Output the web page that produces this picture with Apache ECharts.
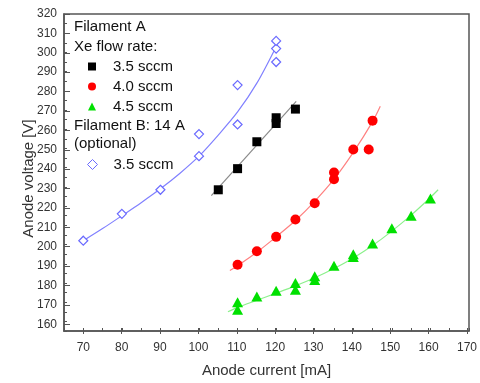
<!DOCTYPE html>
<html>
<head>
<meta charset="utf-8">
<script src="https://cdn.jsdelivr.net/npm/echarts@6/dist/echarts.min.js"></script>
<style>
html,body{margin:0;padding:0;background:#fff;}
#chart{width:480px;height:383px;}
</style>
</head>
<body>
<div id="chart"></div>
<script>
// Filament A, Xe flow rate 3.5 sccm  [anode current mA, anode voltage V]
const filamentA35 = [[105,228.5],[110,239.5],[115,253.5],[120,263],[120,266],[125,270.5]];
// Filament A, 4.0 sccm
const filamentA40 = [[110,189.5],[115,196.5],[120,204],[125,213],[130,221.5],[135,234],[135,237.5],[140,249.5],[144,249.5],[145,264.5]];
// Filament A, 4.5 sccm
const filamentA45 = [[110,170],[110,166],[115,173],[120,176],[125,180],[125,176.5],[130,183.5],[130,181.5],[135,189],[140,195],[140,193.5],[145,200.5],[150,208.5],[155,215],[160,224]];
// Filament B 14 A (optional), 3.5 sccm
const filamentB35 = [[70,202],[80,216],[90,228.5],[100,246],[100,257.5],[110,262.5],[110,283],[120,295],[120,302],[120,306]];

// fit curves
const fitA35 = [[103.2,225.5],[125.2,274.5]];
const fitA40 = [[108,186.5],[110,189],[115,196],[120,204],[125,212.5],[130,222.5],[135,234],[140,248],[145,264],[147,272]];
const fitA45 = [[107.5,165],[110,167.3],[115,171],[120,174.7],[125,178.5],[130,182.7],[135,187.5],[140,193],[145,199.5],[150,207],[155,215.3],[160,224.5],[162,228.5]];
const fitB35 = [[70,202],[75,208.3],[80,215],[85,221.8],[90,229],[95,237],[100,246],[105,257],[110,269],[115,284],[120,303]];

const legendA = ['3.5 sccm','4.0 sccm','4.5 sccm'];
const legendB = ['3.5 sccm (B)'];
const legendBLabel = '3.5 sccm';
const headers = ['Filament A','Xe flow rate:','Filament B: 14 A','(optional)'];

const xTitle = 'Anode current [mA]';
const yTitle = 'Anode voltage [V]';

const FONT = '"Liberation Sans", Arial, sans-serif';
const AX = '#555';
const BLUE = '#6a6aff';

const chart = echarts.init(document.getElementById('chart'), null, {renderer:'canvas'});

function fitLine(data, color){
  return {type:'line', data:data, xAxisIndex:0, yAxisIndex:0, showSymbol:false, symbol:'none',
    smooth:0.3, lineStyle:{color:color, width:1.2}, z:1, silent:true, animation:false};
}

chart.setOption({
  animation:false,
  backgroundColor:'#fff',
  textStyle:{fontFamily:FONT},
  grid:[
    {left:64, right:11, top:14, bottom:49, show:true, borderColor:AX, borderWidth:1.5, backgroundColor:'transparent'},
    {left:64, right:11, top:14, bottom:58.7},
    {left:83.3, right:11, top:14, bottom:49}
  ],
  xAxis:[
    {gridIndex:0, type:'value', min:65, max:170, interval:5,
      axisLine:{show:true, onZero:false, lineStyle:{color:AX, width:1.5}},
      axisTick:{show:true, inside:true, length:3, lineStyle:{color:AX, width:1}},
      axisLabel:{show:false}, splitLine:{show:false},
      name:xTitle, nameLocation:'middle', nameGap:32,
      nameTextStyle:{fontSize:15, color:'#333', fontFamily:FONT}},
    {gridIndex:1, type:'value', min:65, max:170, show:false},
    {gridIndex:2, type:'value', min:70, max:170, interval:10,
      axisLine:{show:false, onZero:false},
      axisTick:{show:true, inside:true, length:6, lineStyle:{color:AX, width:1}},
      axisLabel:{fontSize:12, color:'#333', margin:8, fontFamily:FONT},
      splitLine:{show:false}}
  ],
  yAxis:[
    {gridIndex:0, type:'value', min:155, max:320, interval:5,
      axisLine:{show:true, onZero:false, lineStyle:{color:AX, width:1.5}},
      axisTick:{show:true, inside:true, length:3, lineStyle:{color:AX, width:1}},
      axisLabel:{show:false}, splitLine:{show:false},
      name:yTitle, nameLocation:'middle', nameGap:28,
      nameTextStyle:{fontSize:15, color:'#333', fontFamily:FONT, padding:[0,12,0,0]}},
    {gridIndex:1, type:'value', min:160, max:320, interval:10,
      axisLine:{show:false, onZero:false},
      axisTick:{show:true, inside:true, length:6, lineStyle:{color:AX, width:1}},
      axisLabel:{fontSize:12, color:'#333', margin:7, fontFamily:FONT},
      splitLine:{show:false}},
    {gridIndex:2, type:'value', min:155, max:320, show:false}
  ],
  legend:[
    {data:legendA, orient:'vertical', left:88, top:56.5, padding:0, itemGap:0,
      itemWidth:8, itemHeight:8, selectedMode:false,
      textStyle:{fontSize:15, color:'#111', lineHeight:20, padding:[0,0,0,12], fontFamily:FONT}},
    {data:[{name:legendB[0], icon:'diamond', itemStyle:{color:'#ffffff', borderColor:BLUE, borderWidth:1}}],
      orient:'vertical', left:87, top:154.5, padding:0, itemGap:0,
      itemWidth:10, itemHeight:10, selectedMode:false, formatter:function(){return legendBLabel;},
      textStyle:{fontSize:15, color:'#111', lineHeight:20, padding:[0,0,0,11], fontFamily:FONT}}
  ],
  graphic:[
    {type:'text', left:74, top:19.5, style:{text:headers[0], font:'15px '+FONT, fill:'#111'}},
    {type:'text', left:74, top:39.5, style:{text:headers[1], font:'15px '+FONT, fill:'#111'}},
    {type:'text', left:74, top:118, style:{text:headers[2], font:'15px '+FONT, fill:'#111'}},
    {type:'text', left:74, top:136.5, style:{text:headers[3], font:'15px '+FONT, fill:'#111'}}
  ],
  series:[
    fitLine(fitA35, '#8a8a8a'),
    fitLine(fitA40, '#ff8080'),
    fitLine(fitA45, '#8cf08c'),
    fitLine(fitB35, '#8080ff'),
    {name:legendA[0], type:'scatter', data:filamentA35, symbol:'rect', symbolSize:9,
      itemStyle:{color:'#000', opacity:1}, z:3},
    {name:legendA[1], type:'scatter', data:filamentA40, symbol:'circle', symbolSize:10,
      itemStyle:{color:'#ff0000', opacity:1}, z:3},
    {name:legendA[2], type:'scatter', data:filamentA45, symbol:'triangle', symbolSize:[11,10],
      itemStyle:{color:'#00e000', opacity:1}, z:3},
    {name:legendB[0], type:'scatter', data:filamentB35, symbol:'diamond', symbolSize:[9,9],
      itemStyle:{color:'#ffffff', borderColor:BLUE, borderWidth:1.2, opacity:1}, z:3}
  ]
});
</script>
</body>
</html>
